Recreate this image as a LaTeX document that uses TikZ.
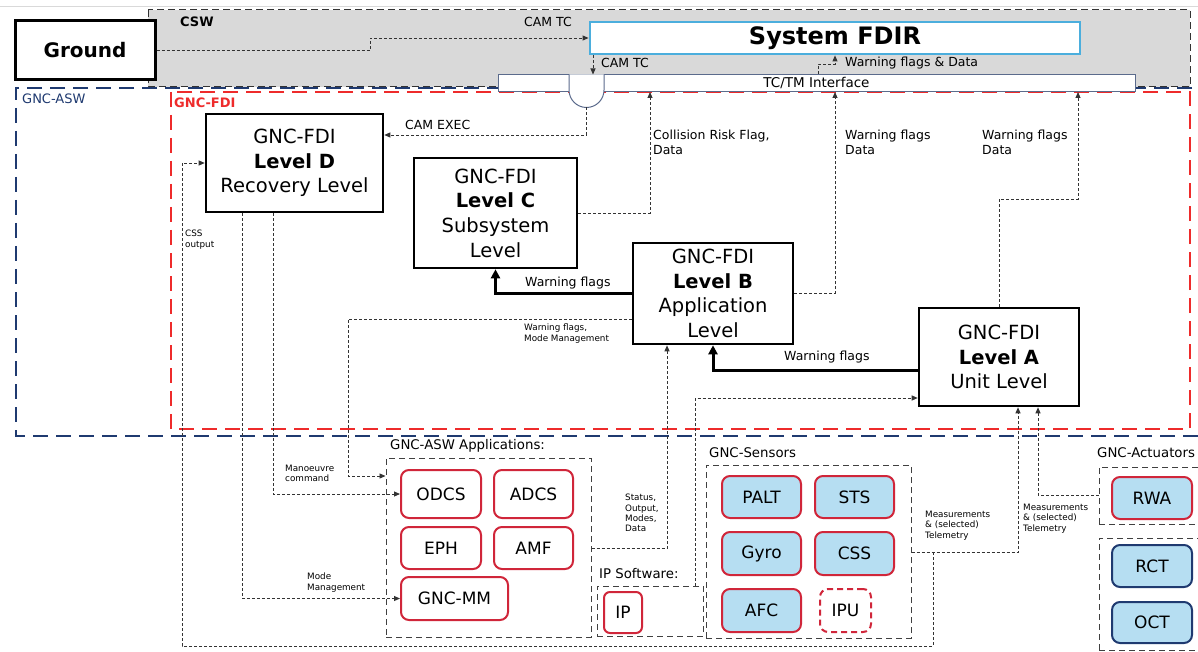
\documentclass[tikz,border=0pt]{standalone}
\usepackage{fontspec}
\setmainfont{DejaVu Sans}
\usetikzlibrary{arrows.meta}
\definecolor{appred}{HTML}{D0263A}
\definecolor{fdired}{HTML}{EE2B2B}
\definecolor{navy}{HTML}{1F3A70}
\definecolor{sensblue}{HTML}{B6DEF2}
\definecolor{fdirblue}{HTML}{4BAEDD}
\definecolor{cswgrey}{HTML}{D9D9D9}
\definecolor{barline}{HTML}{5B6B8C}
\tikzset{
  conn/.style={draw=black!80, line width=0.9pt, dash pattern=on 3pt off 2pt},
  arr/.style={-{Triangle[length=6pt,width=5pt]}},
  thk/.style={draw=black, line width=3pt, -{Triangle[length=9pt,width=9pt]}},
  lvl/.style={draw, line width=2.6pt, fill=white, align=center, inner sep=0pt, font=\fontsize{19.5}{24.7}\selectfont},
  appbox/.style={draw=appred, line width=2pt, rounded corners=8pt, fill=white, inner sep=0pt, font=\fontsize{17}{20}\selectfont},
  sensbox/.style={appbox, fill=sensblue},
  actbox/.style={appbox, draw=navy, fill=sensblue},
  grp/.style={draw=black!75, line width=1pt, dash pattern=on 6pt off 4pt, inner sep=0pt},
  lbl/.style={font=\fontsize{12.5}{15}\selectfont, inner sep=0pt, anchor=west, align=left},
  mlbl/.style={font=\fontsize{12.5}{15}\selectfont, inner sep=0pt, anchor=north west, align=left},
  tinylbl/.style={font=\fontsize{8.8}{10.3}\selectfont, inner sep=0pt, anchor=north west, align=left},
  grplbl/.style={font=\fontsize{13.3}{16}\selectfont, inner sep=0pt, anchor=west},
}
\begin{document}
\begin{tikzpicture}[x=1pt,y=-1pt]
\useasboundingbox (0,0) rectangle (1198,652);
\fill[white] (0,0) rectangle (1198,652);
\draw[black!15, line width=0.8pt] (0,6) -- (1198,6);

% CSW region
\draw[fill=cswgrey, draw=black!80, line width=1pt, dash pattern=on 7pt off 4pt] (148,10) rectangle (1190,87);
\node[font=\bfseries\fontsize{13}{15}\selectfont, anchor=west, inner sep=0pt] (cswlbl) at (180,22) {CSW};

% GNC-ASW region
\draw[navy, line width=2.5pt, dash pattern=on 15pt off 8pt] (1215,88) -- (16,88) -- (16,436) -- (1215,436);
\node[navy, font=\fontsize{13}{15}\selectfont, anchor=west, inner sep=0pt] (aswlbl) at (22,99) {GNC-ASW};

% GNC-FDI region
\draw[fdired, line width=2.5pt, dash pattern=on 15pt off 8pt] (171,92) rectangle (1190,429);
\node[fdired, font=\bfseries\fontsize{13}{15}\selectfont, anchor=west, inner sep=0pt] (fdilbl) at (174,102.5) {GNC-FDI};

% TC/TM interface bar and gate
\node[draw=barline, line width=1pt, fill=white, minimum width=637pt, minimum height=17pt, inner sep=0pt, font=\fontsize{13.5}{15}\selectfont] (tctm) at (816.5,83) {TC/TM Interface};
\draw[barline, line width=1pt, fill=white] (569,74.5) -- (569,90) arc[start angle=180, end angle=0, radius=17.5] -- (604,74.5);
\coordinate (gatebot) at (586.5,107.5);
\coordinate (gatetop) at (593,74.5);

% Ground and System FDIR
\node[draw, line width=3pt, fill=white, minimum width=140pt, minimum height=59pt, inner sep=0pt, font=\bfseries\fontsize{20}{24}\selectfont] (ground) at (85,50.5) {Ground};
\node[draw=fdirblue, line width=2.8pt, fill=white, minimum width=490pt, minimum height=32pt, inner sep=0pt, font=\bfseries\fontsize{24}{26}\selectfont] (fdir) at (835,38) {System FDIR};

% Level boxes
\node[lvl, minimum width=177pt, minimum height=98pt] (D) at (294.5,163) {GNC-FDI\\\textbf{Level D}\\Recovery Level};
\node[lvl, minimum width=163pt, minimum height=110pt] (C) at (495.5,213) {GNC-FDI\\\textbf{Level C}\\Subsystem\\Level};
\node[lvl, minimum width=160pt, minimum height=101pt] (B) at (713,293.5) {GNC-FDI\\\textbf{Level B}\\Application\\Level};
\node[lvl, minimum width=160pt, minimum height=98pt] (A) at (999,357) {GNC-FDI\\\textbf{Level A}\\Unit Level};

% GNC-ASW applications
\node[grplbl] (appslbl) at (390,446) {GNC-ASW Applications:};
\node[grp, minimum width=205pt, minimum height=179pt] (appsgrp) at (488.5,547.5) {};
\node[appbox, minimum width=80pt, minimum height=48pt] (ODCS) at (441,494) {ODCS};
\node[appbox, minimum width=79pt, minimum height=48pt] (ADCS) at (533.5,494) {ADCS};
\node[appbox, minimum width=80pt, minimum height=42pt] (EPH) at (441,548) {EPH};
\node[appbox, minimum width=79pt, minimum height=42pt] (AMF) at (533.5,548) {AMF};
\node[appbox, minimum width=107pt, minimum height=43pt] (GNCMM) at (454.5,598.5) {GNC-MM};

% IP software
\node[grplbl] (iplbl) at (599,574) {IP Software:};
\node[grp, minimum width=106pt, minimum height=50pt] (ipgrp) at (650,611) {};
\node[appbox, minimum width=38pt, minimum height=41pt, rounded corners=6pt] (IP) at (623,612.5) {IP};

% GNC-Sensors
\node[grplbl] (senslbl) at (709,453) {GNC-Sensors};
\node[grp, minimum width=205pt, minimum height=173pt] (sensgrp) at (808.5,551.5) {};
\node[sensbox, minimum width=79pt, minimum height=42pt] (PALT) at (761.5,497) {PALT};
\node[sensbox, minimum width=79pt, minimum height=42pt] (STS) at (854.5,497) {STS};
\node[sensbox, minimum width=79pt, minimum height=43pt] (Gyro) at (761.5,553.5) {Gyro};
\node[sensbox, minimum width=79pt, minimum height=43pt] (CSS) at (854.5,553.5) {CSS};
\node[sensbox, minimum width=79pt, minimum height=43pt] (AFC) at (761.5,610.5) {AFC};
\node[appbox, dash pattern=on 6pt off 4pt, minimum width=51pt, minimum height=43pt] (IPU) at (845.5,610.5) {IPU};

% GNC-Actuators
\node[grplbl] (actlbl) at (1097,453) {GNC-Actuators};
\node[grp, minimum width=106pt, minimum height=57pt] (actgrp) at (1152,495.5) {};
\node[sensbox, minimum width=80pt, minimum height=42pt] (RWA) at (1152,498) {RWA};
\node[grp, minimum width=106pt, minimum height=112pt] (actgrp2) at (1152,594) {};
\node[actbox, minimum width=80pt, minimum height=42pt] (RCT) at (1152,566) {RCT};
\node[actbox, minimum width=80pt, minimum height=41pt] (OCT) at (1152,622.5) {OCT};

% ---- connectors ----
% Ground -> System FDIR
\coordinate (kg) at (370,50.5);
\draw[conn,arr] (ground.east) -- (kg) |- (fdir.west);
\node[lbl] (lcamtc1) at (524,22) {CAM TC};
% System FDIR -> gate
\draw[conn,arr] (fdir.south -| gatetop) -- (gatetop);
\node[lbl] (lcamtc2) at (601,63) {CAM TC};
% TC/TM -> System FDIR
\coordinate (kw1) at (818,64);
\coordinate (kw2) at (835,64);
\draw[conn,arr] (tctm.north -| kw1) -- (kw1) -- (kw2) -- (fdir.south -| kw2);
\node[lbl] (lwfd) at (845,63) {Warning flags \& Data};
% gate -> Level D
\coordinate (kcam) at (586.5,135);
\draw[conn,arr] (gatebot) -- (kcam) -- (D.east |- kcam);
\node[lbl] (lcamexec) at (405,125) {CAM EXEC};
% Level C -> TC/TM
\coordinate (kc) at (650,213);
\draw[conn,arr] (C.east |- kc) -- (kc) -- (kc |- tctm.south);
\node[mlbl] (lcoll) at (653,130) {Collision Risk Flag,\\Data};
% Level B -> TC/TM
\coordinate (kb) at (835,293.5);
\draw[conn,arr] (B.east) -- (kb) -- (kb |- tctm.south);
\node[mlbl] (lwb) at (845,130) {Warning flags\\Data};
% Level A -> TC/TM
\coordinate (ka) at (1078,199);
\draw[conn,arr] (A.north) |- (ka) -- (ka |- tctm.south);
\node[mlbl] (lwa) at (982,130) {Warning flags\\Data};
% thick warning flags
\draw[thk] (B.west) -| (C.south);
\node[lbl] (lw1) at (525,283) {Warning flags};
\coordinate (kab) at (919,370);
\draw[thk] (A.west |- kab) -| (B.south);
\node[lbl] (lw2) at (784,357) {Warning flags};
% Level B -> applications
\coordinate (kbm) at (348,319);
\coordinate (kbm2) at (348,476);
\draw[conn,arr] (B.west |- kbm) -- (kbm) -- (kbm2) -- (appsgrp.west |- kbm2);
\node[tinylbl] (lwm) at (524,324) {Warning flags,\\Mode Management};
% Level D -> ODCS
\coordinate (kd1) at (273,494);
\draw[conn,arr] (D.south -| kd1) -- (kd1) -- (ODCS.west);
\node[tinylbl] (lman) at (285,465) {Manoeuvre\\command};
% Level D -> GNC-MM
\coordinate (kd2) at (242,598.5);
\draw[conn,arr] (D.south -| kd2) -- (kd2) -- (GNCMM.west);
\node[tinylbl] (lmode) at (307,573) {Mode\\Management};
% applications -> Level B
\coordinate (ks) at (667,548);
\draw[conn,arr] (appsgrp.east |- ks) -- (ks) -- (ks |- B.south);
\node[tinylbl] (lstat) at (625,494) {Status,\\Output,\\Modes,\\Data};
% IP software -> Level A
\coordinate (kip) at (695,398);
\draw[conn,arr] (ipgrp.north -| kip) -- (kip) -- (A.west |- kip);
% sensors -> Level A
\coordinate (kse) at (1018,552);
\draw[conn,arr] (sensgrp.east |- kse) -- (kse) -- (kse |- A.south);
\node[tinylbl] (lmeas1) at (925,511) {Measurements\\\& (selected)\\Telemetry};
% CSS output -> Level D
\coordinate (kcs1) at (933,552);
\coordinate (kcs2) at (933,646);
\coordinate (kcs3) at (182,646);
\coordinate (kcs4) at (182,163);
\draw[conn,arr] (kcs1) -- (kcs2) -- (kcs3) -- (kcs4) -- (D.west);
\node[tinylbl] (lcss) at (185,230) {CSS\\output};
% RWA -> Level A
\coordinate (krw) at (1038,495);
\draw[conn,arr] (actgrp.west |- krw) -- (krw) -- (krw |- A.south);
\node[tinylbl] (lmeas2) at (1023,504) {Measurements\\\& (selected)\\Telemetry};
\end{tikzpicture}
\end{document}
